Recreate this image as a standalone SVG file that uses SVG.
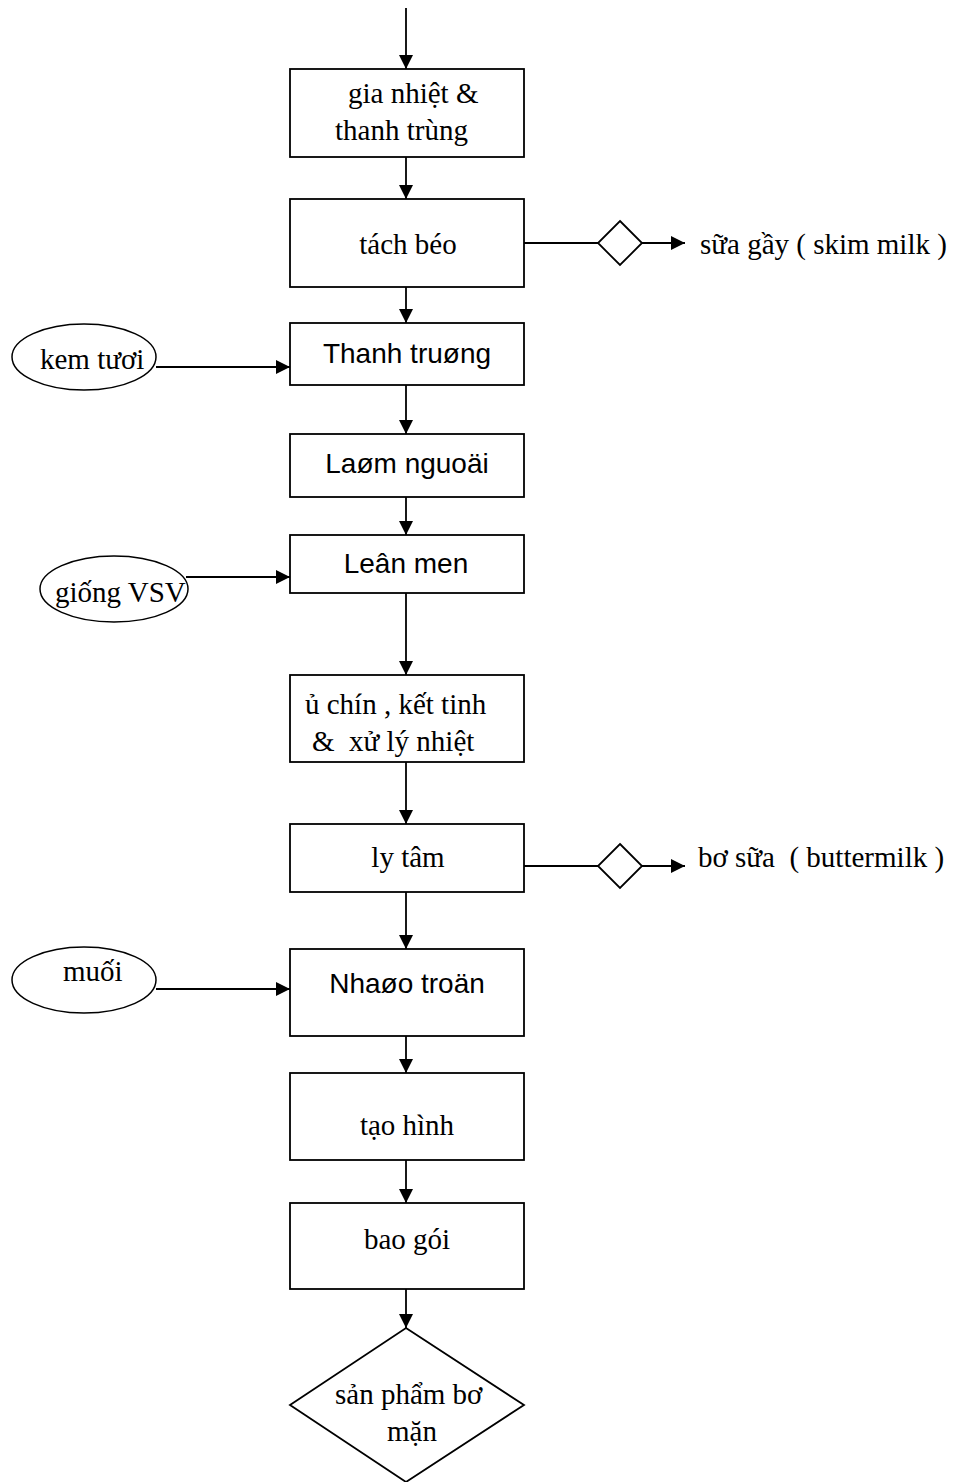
<svg xmlns="http://www.w3.org/2000/svg" width="966" height="1482" viewBox="0 0 966 1482">
<style>
.box{fill:#fff;stroke:#000;stroke-width:1.8}
.ell{fill:#fff;stroke:#000;stroke-width:1.5}
.ln{fill:none;stroke:#000;stroke-width:1.8}
.arr{fill:none;stroke:#000;stroke-width:1.8;marker-end:url(#ah)}
.t{font-family:"Liberation Serif","Times New Roman",serif;font-size:29px;fill:#000}
.s{font-family:"Liberation Sans",Arial,sans-serif;font-size:28px;fill:#000}
.c{text-anchor:middle}
</style>
<defs>
<marker id="ah" markerUnits="userSpaceOnUse" markerWidth="14" markerHeight="14" refX="14" refY="7" orient="auto">
<path d="M0,0 L14,7 L0,14 Z" fill="#000"/>
</marker>
</defs>
<g id="connectors">
<line class="arr" x1="406" y1="8" x2="406" y2="69"/>
<line class="arr" x1="406" y1="157" x2="406" y2="199"/>
<line class="arr" x1="406" y1="287" x2="406" y2="323"/>
<line class="arr" x1="406" y1="385" x2="406" y2="434"/>
<line class="arr" x1="406" y1="497" x2="406" y2="535"/>
<line class="arr" x1="406" y1="593" x2="406" y2="675"/>
<line class="arr" x1="406" y1="762" x2="406" y2="824"/>
<line class="arr" x1="406" y1="892" x2="406" y2="949"/>
<line class="arr" x1="406" y1="1036" x2="406" y2="1073"/>
<line class="arr" x1="406" y1="1160" x2="406" y2="1203"/>
<line class="arr" x1="406" y1="1289" x2="406" y2="1328"/>
<line class="ln" x1="524" y1="243" x2="598" y2="243"/>
<line class="arr" x1="642" y1="243" x2="685" y2="243"/>
<line class="ln" x1="524" y1="866" x2="598" y2="866"/>
<line class="arr" x1="642" y1="866" x2="685" y2="866"/>
<line class="arr" x1="156" y1="367" x2="290" y2="367"/>
<line class="arr" x1="186" y1="577" x2="290" y2="577"/>
<line class="arr" x1="156" y1="989" x2="290" y2="989"/>
</g>
<g id="n1"><rect class="box" x="290" y="69" width="234" height="88"/>
<text class="t" x="348" y="103">gia nhiệt &amp;</text>
<text class="t" x="335" y="140">thanh trùng</text></g>
<g id="n2"><rect class="box" x="290" y="199" width="234" height="88"/>
<text class="t c" x="408" y="254">tách béo</text></g>
<g id="d1"><path class="box" d="M620,221 L642,243 L620,265 L598,243 Z"/></g>
<g id="o1"><text class="t" x="700" y="254">sữa gầy ( skim milk )</text></g>
<g id="n3"><rect class="box" x="290" y="323" width="234" height="62"/>
<text class="s c" x="407" y="363">Thanh truøng</text></g>
<g id="e1"><ellipse class="ell" cx="84" cy="357" rx="72" ry="33"/>
<text class="t" x="40" y="369">kem tươi</text></g>
<g id="n4"><rect class="box" x="290" y="434" width="234" height="63"/>
<text class="s c" x="407" y="473">Laøm nguoäi</text></g>
<g id="n5"><rect class="box" x="290" y="535" width="234" height="58"/>
<text class="s c" x="406" y="573">Leân men</text></g>
<g id="e2"><ellipse class="ell" cx="114" cy="589" rx="74" ry="33"/>
<text class="t" x="55" y="602">giống VSV</text></g>
<g id="n6"><rect class="box" x="290" y="675" width="234" height="87"/>
<text class="t" x="305" y="714">ủ chín , kết tinh</text>
<text class="t" x="312" y="751" xml:space="preserve">&amp;  xử lý nhiệt</text></g>
<g id="n7"><rect class="box" x="290" y="824" width="234" height="68"/>
<text class="t c" x="408" y="867">ly tâm</text></g>
<g id="d2"><path class="box" d="M620,844 L642,866 L620,888 L598,866 Z"/></g>
<g id="o2"><text class="t" x="698" y="867" xml:space="preserve">bơ sữa  ( buttermilk )</text></g>
<g id="n8"><rect class="box" x="290" y="949" width="234" height="87"/>
<text class="s c" x="407" y="993">Nhaøo troän</text></g>
<g id="e3"><ellipse class="ell" cx="84" cy="980" rx="72" ry="33"/>
<text class="t" x="63" y="981">muối</text></g>
<g id="n9"><rect class="box" x="290" y="1073" width="234" height="87"/>
<text class="t c" x="407" y="1135">tạo hình</text></g>
<g id="n10"><rect class="box" x="290" y="1203" width="234" height="86"/>
<text class="t c" x="407" y="1249">bao gói</text></g>
<g id="n11"><path class="box" d="M406,1328 L524,1405 L406,1482 L290,1405 Z"/>
<text class="t" x="335" y="1404">sản phẩm bơ</text>
<text class="t c" x="412" y="1441">mặn</text></g>
</svg>
